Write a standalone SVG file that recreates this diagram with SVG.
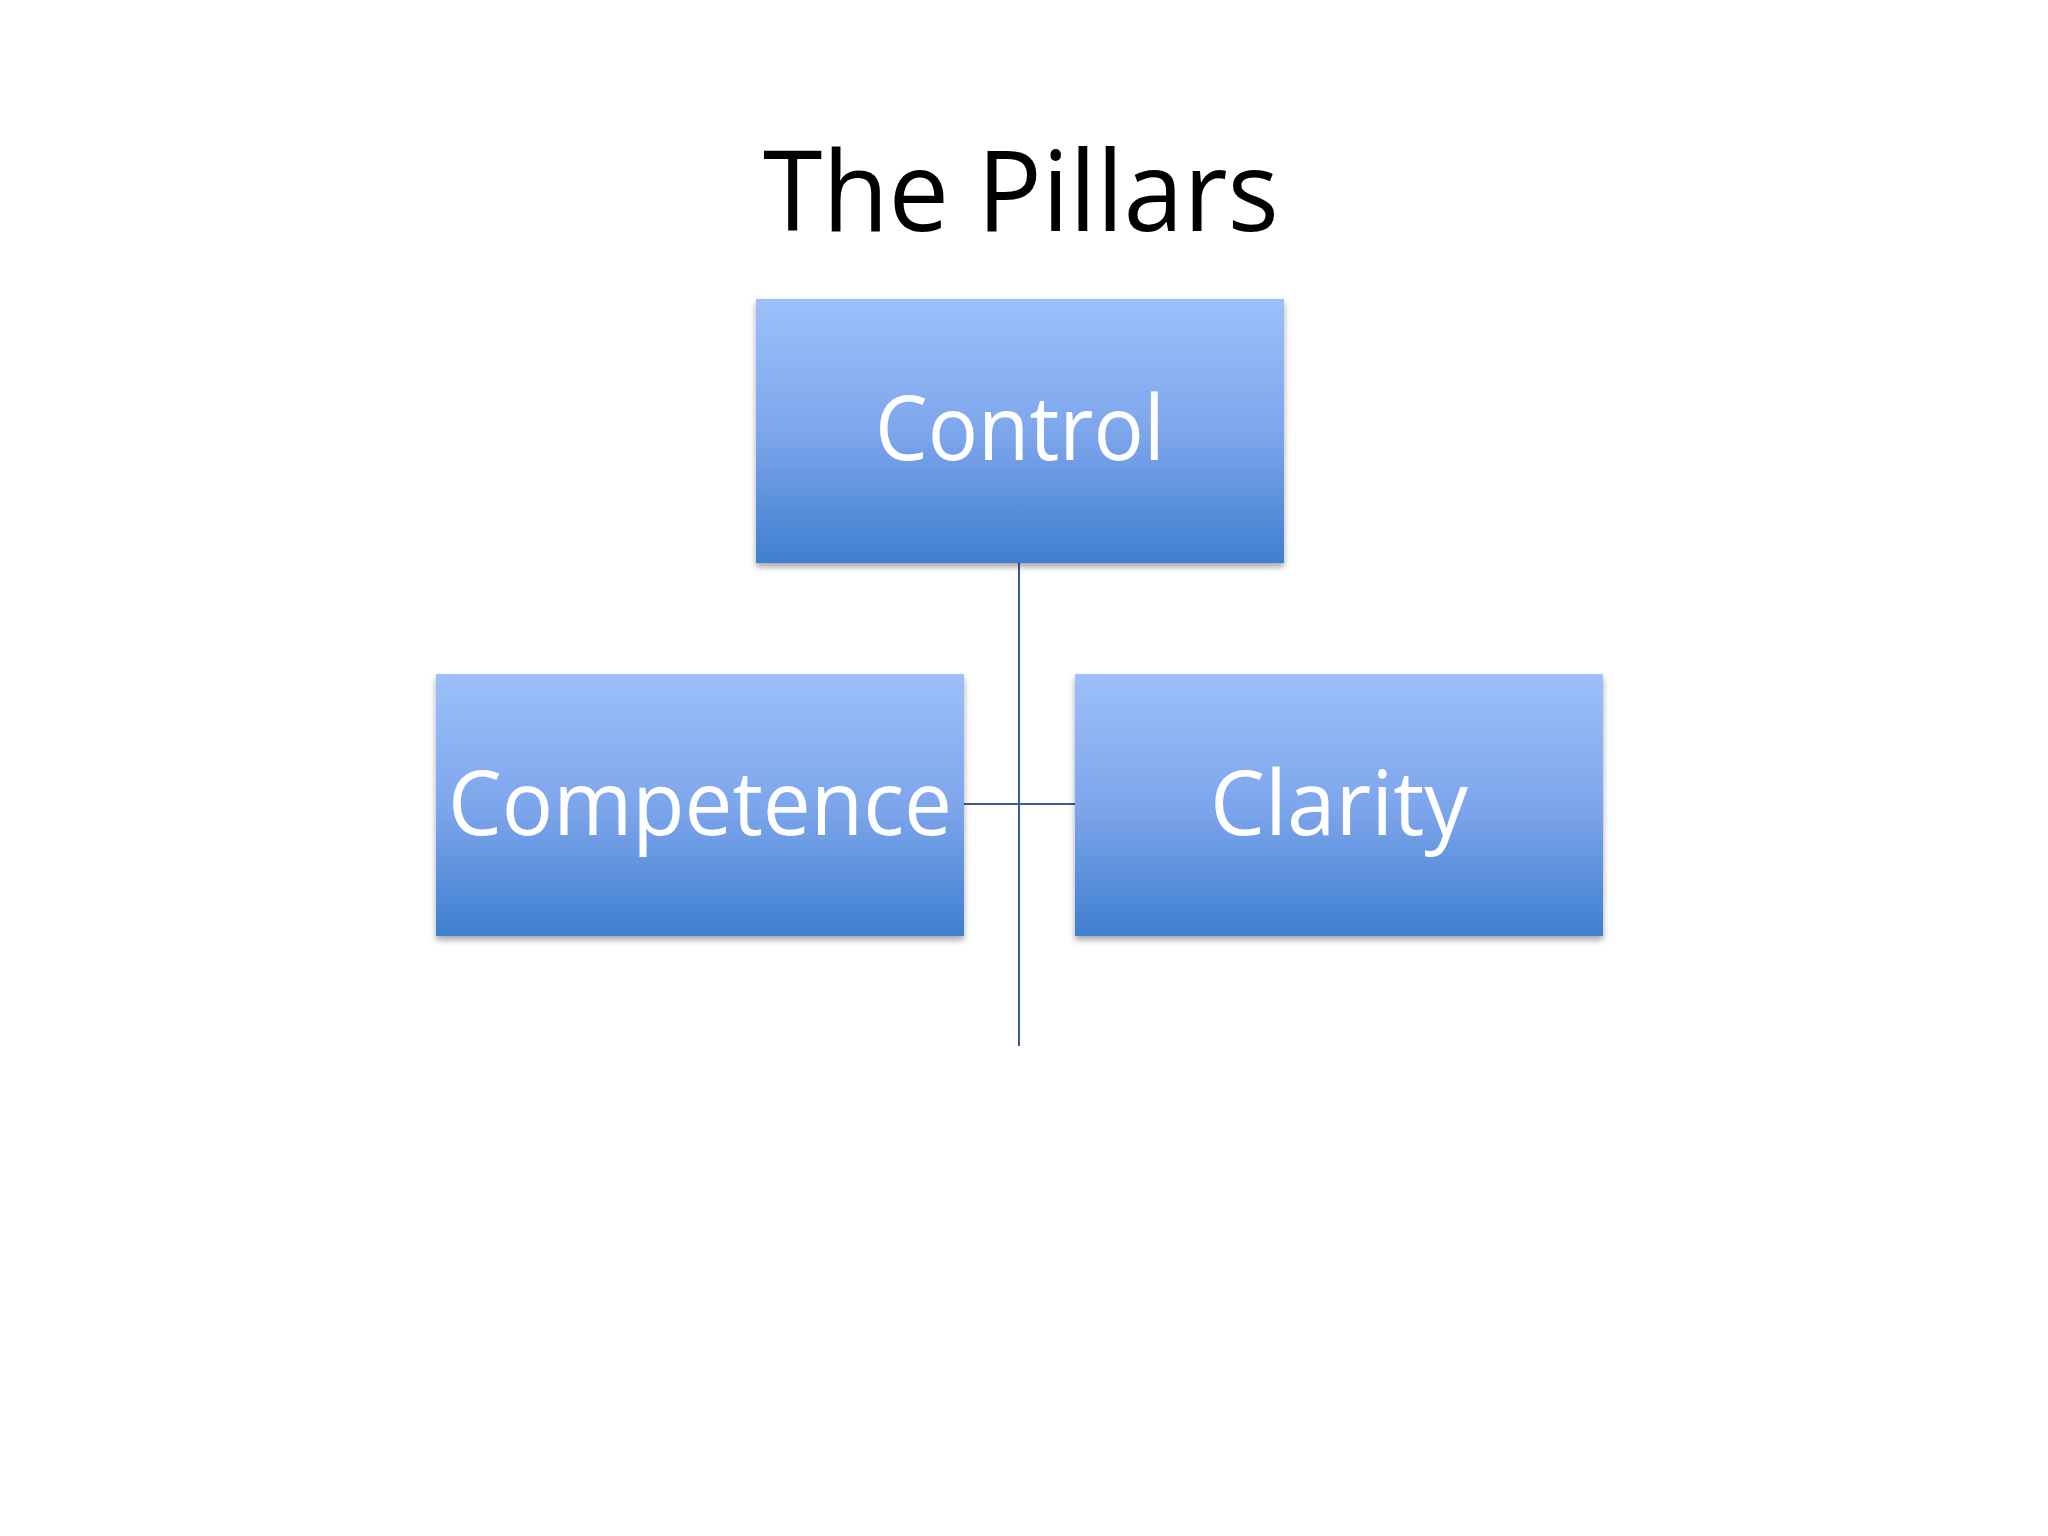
<svg xmlns="http://www.w3.org/2000/svg" width="2048" height="1536" viewBox="0 0 2048 1536">
<defs>
<linearGradient id="g" x1="0" y1="0" x2="0" y2="1">
<stop offset="0" stop-color="#9dc0fb"/>
<stop offset="0.5" stop-color="#7ea6ec"/>
<stop offset="1" stop-color="#3f7fd0"/>
</linearGradient>
<filter id="s" x="-5%" y="-5%" width="110%" height="115%"><feDropShadow dx="0" dy="4" stdDeviation="3" flood-color="#000" flood-opacity="0.35"/></filter>
</defs>
<style>
.box{fill:url(#g);filter:url(#s)}
.lbl{font-family:"Open Sans","Noto Sans",sans-serif;font-size:90px;fill:#fff;text-anchor:middle}
.ln{stroke:#3a5a98;stroke-width:2;fill:none}
</style>
<rect width="2048" height="1536" fill="#fff"/>
<text x="1021" y="231" font-family="Open Sans, Noto Sans, sans-serif" font-size="112" text-anchor="middle" fill="#000" textLength="516" lengthAdjust="spacingAndGlyphs">The Pillars</text>
<g id="connectors">
<path class="ln" d="M1019 563V1046M964 804H1075"/>
</g>
<g id="control"><rect class="box" x="756" y="299" width="528" height="264"/><text class="lbl" x="1020" y="460" textLength="290" lengthAdjust="spacingAndGlyphs">Control</text></g>
<g id="competence"><rect class="box" x="436" y="674" width="528" height="262"/><text class="lbl" x="700" y="835" textLength="504" lengthAdjust="spacingAndGlyphs">Competence</text></g>
<g id="clarity"><rect class="box" x="1075" y="674" width="528" height="262"/><text class="lbl" x="1339" y="835" textLength="258" lengthAdjust="spacingAndGlyphs">Clarity</text></g>
</svg>
